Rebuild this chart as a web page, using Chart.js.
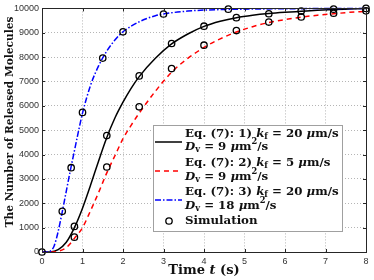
<!DOCTYPE html>
<html lang="en">
<head>
    <meta charset="UTF-8">
    <title>Released Molecules</title>
    <script src="https://cdn.jsdelivr.net/npm/chart.js"></script>
    <style>
        html, body { margin: 0; padding: 0; background: #fff; }
        #wrap { width: 374px; height: 280px; }
    </style>
</head>
<body>
    <div id="wrap"><canvas id="molChart" width="374" height="280"></canvas></div>

    <script>
        // curve data
        const tCurve = [0, 0.2, 0.4, 0.6, 0.8, 1.0, 1.2, 1.4, 1.6, 1.8, 2.0, 2.2, 2.4, 2.8, 3.2, 3.6, 4.0, 4.4, 4.8, 5.2, 5.6, 6.0, 6.4, 6.8, 7.2, 7.6, 8.0];
        const eq1 = [0, 5, 100, 400, 1000, 1800, 2750, 3750, 4700, 5500, 6150, 6720, 7200, 7950, 8540, 8950, 9260, 9470, 9620, 9720, 9790, 9840, 9880, 9920, 9950, 9975, 10000];
        const eq2 = [0, 0, 30, 180, 560, 1000, 1700, 2450, 3250, 3950, 4650, 5200, 5700, 6600, 7380, 7950, 8400, 8750, 9030, 9250, 9420, 9540, 9640, 9720, 9780, 9840, 9880];
        const tBlue = [0, 0.1, 0.2, 0.3, 0.4, 0.5, 0.6, 0.7, 0.8, 0.9, 1.0, 1.2, 1.4, 1.6, 1.8, 2.0, 2.4, 2.8, 3.2, 3.6, 4.0, 5.0, 6.0, 7.0, 8.0];
        const eq3 = [0, 0, 30, 250, 850, 1650, 2500, 3350, 4150, 4950, 5700, 6850, 7650, 8250, 8700, 9040, 9450, 9700, 9820, 9890, 9930, 9970, 9985, 9995, 10000];

        // simulation markers
        const simT1 = [0, 0.8, 1.6, 2.4, 3.2, 4.0, 4.8, 5.6, 6.4, 7.2, 8.0];
        const simN1 = [0, 1050, 4780, 7230, 8560, 9270, 9620, 9780, 9890, 9970, 10000];
        const simT2 = [0.8, 1.6, 2.4, 3.2, 4.0, 4.8, 5.6, 6.4, 7.2, 8.0];
        const simN2 = [610, 3490, 5960, 7530, 8490, 9090, 9440, 9650, 9800, 9900];
        const simT3 = [0.5, 0.72, 1.0, 1.5, 2.0, 3.0, 4.6];
        const simN3 = [1670, 3460, 5730, 7960, 9040, 9770, 9970];

        const xTicks = [0, 1, 2, 3, 4, 5, 6, 7, 8];
        const yTicks = [0, 1000, 2000, 3000, 4000, 5000, 6000, 7000, 8000, 9000, 10000];

        const pts = (xs, ys) => xs.map((x, i) => ({ x: x, y: ys[i] }));
        const simPts = pts(simT1, simN1).concat(pts(simT2, simN2), pts(simT3, simN3));

        const SERIF = '"DejaVu Serif", serif';

        // draws a run of text pieces, some italic / sub / sup
        function richText(ctx, x, y, parts, size) {
            let cx = x;
            parts.forEach(p => {
                let s = size, dy = 0;
                if (p.sub) { s = size * 0.7; dy = size * 0.25; }
                if (p.sup) { s = size * 0.7; dy = -size * 0.4; }
                ctx.font = (p.i ? 'italic ' : '') + 'bold ' + s + 'px ' + SERIF;
                ctx.fillText(p.t, cx, y + dy);
                cx += ctx.measureText(p.t).width;
            });
            return cx;
        }
        function richWidth(ctx, parts, size) {
            let w = 0;
            parts.forEach(p => {
                const s = (p.sub || p.sup) ? size * 0.7 : size;
                ctx.font = (p.i ? 'italic ' : '') + 'bold ' + s + 'px ' + SERIF;
                w += ctx.measureText(p.t).width;
            });
            return w;
        }

        const kLine = (n, k) => [
            { t: 'Eq. (7): ' + n + ') ' }, { t: 'k', i: true }, { t: 'f', sub: true },
            { t: ' = ' + k + ' ' }, { t: 'μ', i: true }, { t: 'm/s' }
        ];
        const dLine = d => [
            { t: 'D', i: true }, { t: 'v', sub: true }, { t: ' = ' + d + ' ' },
            { t: 'μ', i: true }, { t: 'm' }, { t: '2', sup: true }, { t: '/s' }
        ];

        const frame = {
            id: 'frame',
            afterDraw(chart) {
                const ctx = chart.ctx, a = chart.chartArea;
                const xs = chart.scales.x, ys = chart.scales.y;
                ctx.save();
                // inner ticks
                ctx.strokeStyle = '#262626';
                ctx.lineWidth = 1;
                ctx.beginPath();
                xTicks.forEach(v => {
                    const px = Math.round(xs.getPixelForValue(v)) + 0.5;
                    ctx.moveTo(px, a.bottom); ctx.lineTo(px, a.bottom - 3);
                    ctx.moveTo(px, a.top); ctx.lineTo(px, a.top + 3);
                });
                yTicks.forEach(v => {
                    const py = Math.round(ys.getPixelForValue(v)) + 0.5;
                    ctx.moveTo(a.left, py); ctx.lineTo(a.left + 3, py);
                    ctx.moveTo(a.right, py); ctx.lineTo(a.right - 3, py);
                });
                ctx.stroke();
                ctx.strokeRect(Math.round(a.left) + 0.5, Math.round(a.top) + 0.5,
                    Math.round(a.right - a.left), Math.round(a.bottom - a.top));

                // axis titles
                ctx.fillStyle = '#111';
                ctx.textBaseline = 'middle';
                ctx.save();
                ctx.translate(10, 122);
                ctx.rotate(-Math.PI / 2);
                const yt = [{ t: 'The Number of Released Molecules' }];
                richText(ctx, -richWidth(ctx, yt, 10.6) / 2, 0, yt, 10.6);
                ctx.restore();

                const xt = [{ t: 'Time ' }, { t: 't', i: true }, { t: ' (s)' }];
                richText(ctx, 204 - richWidth(ctx, xt, 13) / 2, 271, xt, 13);

                // legend box
                const L = 153, T = 125, R = 342, B = 231;
                ctx.fillStyle = '#fff';
                ctx.fillRect(L, T, R - L, B - T);
                ctx.strokeStyle = '#a0a0a0';
                ctx.lineWidth = 1;
                ctx.strokeRect(L + 0.5, T + 0.5, R - L, B - T);

                const fs = 11.8;
                const entries = [
                    { c: '#000', dash: [], y1: 134, y2: 147, ly: 142, k: kLine(1, 20), d: dLine(9) },
                    { c: '#ff0000', dash: [5, 4], y1: 163, y2: 177, ly: 171, k: kLine(2, 5), d: dLine(9) },
                    { c: '#0000ff', dash: [6, 2, 1.5, 2], y1: 192, y2: 206, ly: 200, k: kLine(3, 20), d: dLine(18) }
                ];
                entries.forEach(e => {
                    ctx.strokeStyle = e.c;
                    ctx.lineWidth = 1.5;
                    ctx.setLineDash(e.dash);
                    ctx.beginPath();
                    ctx.moveTo(155, e.ly); ctx.lineTo(182, e.ly);
                    ctx.stroke();
                    ctx.setLineDash([]);
                    ctx.fillStyle = '#111';
                    richText(ctx, 185, e.y1, e.k, fs);
                    richText(ctx, 185, e.y2, e.d, fs);
                });
                ctx.strokeStyle = '#000';
                ctx.lineWidth = 1.3;
                ctx.beginPath();
                ctx.arc(169, 221, 3.2, 0, Math.PI * 2);
                ctx.stroke();
                ctx.fillStyle = '#111';
                richText(ctx, 185, 221, [{ t: 'Simulation' }], fs);
                ctx.restore();
            }
        };

        const lineSet = (label, xs, ys, color, dash) => ({
            label: label,
            data: pts(xs, ys),
            showLine: true,
            borderColor: color,
            borderWidth: 1.5,
            borderDash: dash,
            pointRadius: 0,
            cubicInterpolationMode: 'monotone',
            fill: false
        });

        const plain = v => String(v);

        new Chart(document.getElementById('molChart').getContext('2d'), {
            type: 'scatter',
            data: {
                datasets: [
                    {
                        label: 'Simulation',
                        data: simPts,
                        pointStyle: 'circle',
                        pointRadius: 3.2,
                        borderColor: '#000',
                        borderWidth: 1.3,
                        backgroundColor: 'rgba(0,0,0,0)',
                        order: 0
                    },
                    Object.assign(lineSet('Eq. (7): 1)', tCurve, eq1, '#000', []), { order: 3 }),
                    Object.assign(lineSet('Eq. (7): 2)', tCurve, eq2, '#ff0000', [5, 4]), { order: 2 }),
                    Object.assign(lineSet('Eq. (7): 3)', tBlue, eq3, '#0000ff', [6, 2, 1.5, 2]), { order: 1 })
                ]
            },
            options: {
                responsive: false,
                animation: false,
                clip: false,
                layout: { padding: { left: 0, right: 8, top: 6, bottom: 0 } },
                plugins: { legend: { display: false }, tooltip: { enabled: false } },
                scales: {
                    x: {
                        type: 'linear', min: 0, max: 8,
                        afterFit: s => { s.height = 28; },
                        afterBuildTicks: s => { s.ticks = xTicks.map(v => ({ value: v })); },
                        ticks: { color: '#333', font: { family: 'Liberation Sans', size: 9 }, padding: 4, callback: plain },
                        grid: { color: '#b5b5b5', drawTicks: false, lineWidth: 1 },
                        border: { display: false, dash: [1, 2] }
                    },
                    y: {
                        type: 'linear', min: 0, max: 10000,
                        afterFit: s => { s.width = 42; },
                        afterBuildTicks: s => { s.ticks = yTicks.map(v => ({ value: v })); },
                        ticks: { color: '#333', font: { family: 'Liberation Sans', size: 9 }, padding: 3, callback: plain },
                        grid: { color: '#b5b5b5', drawTicks: false, lineWidth: 1 },
                        border: { display: false, dash: [1, 2] }
                    }
                }
            },
            plugins: [frame]
        });
    </script>
</body>
</html>
